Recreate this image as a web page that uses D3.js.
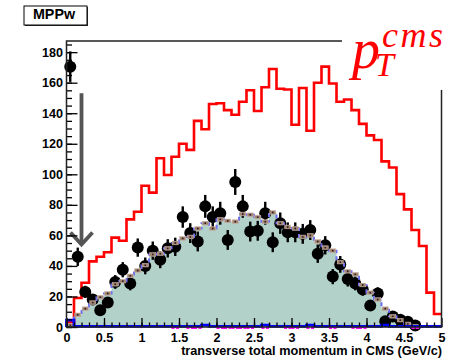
<!DOCTYPE html>
<html>
<head>
<meta charset="utf-8">
<script src="https://cdn.jsdelivr.net/npm/d3@7"></script>
<style>
body { margin: 0; background: #fff; }
svg { display: block; }
text { font-family: "Liberation Sans", Arial, Helvetica, sans-serif; }
text.serif { font-family: "Liberation Serif", "DejaVu Serif", serif; font-style: italic; }
</style>
</head>
<body>
<div id="chart"></div>
<script>
// 50 bins of 0.1 GeV/c from 0 to 5
var binLo = 0, binHi = 5, binCount = 50;

var redCounts = [3, 19, 29, 43, 46, 49, 58.5, 56.5, 70.5, 75.5,
    92.5, 88, 110.5, 99.5, 111.5, 120, 116, 135, 129.5, 146,
    146.5, 142, 139, 147.5, 155, 141.5, 157, 169, 156, 155.5,
    132.5, 156.5, 128.5, 160, 170.5, 159.5, 147.5, 149, 142, 133,
    125.5, 122.5, 108.5, 104.5, 87, 77, 63.5, 53, 22.5, 8.5];

var mcCounts = [1, 8, 12, 16, 19.5, 22, 28, 30, 33.5, 37,
    40.5, 47.5, 48, 51.5, 55, 58, 59, 64.5, 68, 64.5,
    70.5, 69.5, 69, 74, 73.5, 72, 69, 75, 68, 65.5,
    64.5, 59, 60, 56, 52, 50, 42.5, 36.5, 34.5, 27.5,
    22.5, 18, 12, 7, 4.5, 2, 0.5, 0, 0, 0];

var dataCounts = [170.5, 46, 23, 18, 11, 16, 29.5, 37.5, 28.5, 52,
    40, 50, 44, 51.5, 52.5, 72, 61.5, 56, 79, 72,
    74.5, 57, 95, 79, 62.5, 63, 74.5, 55.5, 68, 62,
    62, 61, 63.5, 48, 53.5, 33, 41, 31.5, 28.5, 24.5,
    14, 22, 3.7, 6.8, 4.8, 3.5, 1, null, null, null];

var dataErrors = [10, 6, 4, 3.5, 3, 3.5, 4.5, 5, 4.5, 6,
    5.5, 6, 5.5, 6, 6, 7, 6.5, 6.5, 7.5, 7,
    7.5, 6.5, 8.5, 7.5, 6.5, 6.5, 7.5, 6.5, 7, 6.5,
    6.5, 6.5, 6.5, 6, 6, 5, 5.5, 5, 4.5, 4,
    3, 4, 1.6, 2.2, 1.9, 1.6, 1, null, null, null];

var blueCounts = [4.5, 0.4, 0.4, 0.4, 0.4, 0.4, 0.4, 0.4, 0.4, 0.4,
    0.4, 0.4, 0.4, 0.4, 0.4, 0.4, 0.4, 0.4, 1.2, 0.4,
    0.4, 0.4, 0.4, 0.4, 0.4, 0.4, 1.2, 0.4, 0.4, 0.4,
    0.4, 0.4, 1.2, 0.4, 0.4, 0.4, 0.4, 0.4, 0.4, 0.4,
    0.4, 0.4, 1.2, 0.4, 0.4, 0.4, 0.4, 0.4, 0.4, 0.4];

// bins where the magenta histogram shows along the baseline
var magentaBins = [14, 16, 17, 20, 21, 22, 23, 24, 26, 29, 30, 32, 35, 38, 39, 46];

// cut arrow (x in GeV/c, y in counts)
var arrowX = 0.2, arrowTop = 153, arrowTip = 54;

var xTicks = [0, 0.5, 1, 1.5, 2, 2.5, 3, 3.5, 4, 4.5, 5];
var yTicks = [0, 20, 40, 60, 80, 100, 120, 140, 160, 180];

var width = 459, height = 361;
var frame = { left: 66.5, right: 441.5, top: 41, bottom: 327 };

var svg = d3.select("#chart")
    .append("svg")
    .attr("width", width)
    .attr("height", height);

var x = d3.scaleLinear().domain([binLo, binHi]).range([frame.left, frame.right]);
var y = d3.scaleLinear().domain([0, 187.3]).range([frame.bottom, frame.top]);

var binW = (binHi - binLo) / binCount;
function stepPoints(counts) {
    var pts = [[binLo, 0]];
    counts.forEach(function (v, i) { pts.push([binLo + i * binW, v]); });
    pts.push([binHi, counts[counts.length - 1]]);
    return pts;
}

var stepLine = d3.line()
    .curve(d3.curveStepAfter)
    .x(function (d) { return x(d[0]); })
    .y(function (d) { return y(d[1]); });

var stepArea = d3.area()
    .curve(d3.curveStepAfter)
    .x(function (d) { return x(d[0]); })
    .y0(y(0))
    .y1(function (d) { return y(d[1]); });

// MC fill
svg.append("path")
    .attr("d", stepArea(stepPoints(mcCounts)))
    .attr("fill", "#b1d1c9");

// red histogram
svg.append("path")
    .attr("d", stepLine(stepPoints(redCounts)))
    .attr("fill", "none")
    .attr("stroke", "#ff0000")
    .attr("stroke-width", 2.6);

// data points
var pts = dataCounts.map(function (v, i) {
    return { xc: binLo + (i + 0.5) * binW, v: v, e: dataErrors[i] };
}).filter(function (d) { return d.v !== null; });

svg.append("g").selectAll("line")
    .data(pts)
    .enter().append("line")
    .attr("x1", function (d) { return x(d.xc); })
    .attr("x2", function (d) { return x(d.xc); })
    .attr("y1", function (d) { return y(d.v + d.e); })
    .attr("y2", function (d) { return y(Math.max(0, d.v - d.e)); })
    .attr("stroke", "#000")
    .attr("stroke-width", 2.4);

svg.append("g").selectAll("circle")
    .data(pts)
    .enter().append("circle")
    .attr("cx", function (d) { return x(d.xc); })
    .attr("cy", function (d) { return y(d.v); })
    .attr("r", 6)
    .attr("fill", "#000");

// MC dashed outline
svg.append("path")
    .attr("d", stepLine(stepPoints(mcCounts)))
    .attr("fill", "none")
    .attr("stroke", "#6e6ef2")
    .attr("stroke-width", 2)
    .attr("stroke-dasharray", "4,3");

// MC error boxes
var boxes = svg.append("g").selectAll("g")
    .data(mcCounts.map(function (v, i) { return { xc: binLo + (i + 0.5) * binW, v: v }; })
        .filter(function (d) { return d.v > 0; }))
    .enter().append("g");
boxes.append("rect")
    .attr("x", function (d) { return x(d.xc) - 3; })
    .attr("y", function (d) { return y(d.v) - 1.8; })
    .attr("width", 6)
    .attr("height", 3.6)
    .attr("fill", "#a28574")
    .attr("stroke", "#c9b0a2")
    .attr("stroke-width", 0.6);
boxes.append("circle")
    .attr("cx", function (d) { return x(d.xc); })
    .attr("cy", function (d) { return y(d.v); })
    .attr("r", 0.9)
    .attr("fill", "#2a2020");

// blue histogram along the bottom
svg.append("path")
    .attr("d", stepLine(stepPoints(blueCounts)))
    .attr("fill", "none")
    .attr("stroke", "#0000ff")
    .attr("stroke-width", 2.8);

// magenta pieces
svg.append("g").selectAll("line")
    .data(magentaBins)
    .enter().append("line")
    .attr("x1", function (i) { return x(binLo + i * binW); })
    .attr("x2", function (i) { return x(binLo + (i + 1) * binW); })
    .attr("y1", y(0) + 1)
    .attr("y2", y(0) + 1)
    .attr("stroke", "#ff00ff")
    .attr("stroke-width", 2.2)
    .attr("stroke-dasharray", "3,1.5");

// arrow
svg.append("line")
    .attr("x1", x(arrowX)).attr("x2", x(arrowX))
    .attr("y1", y(arrowTop)).attr("y2", y(arrowTip))
    .attr("stroke", "#555")
    .attr("stroke-width", 3.8);
svg.append("path")
    .attr("d", "M" + (x(arrowX) - 11) + "," + (y(arrowTip) - 12) +
        "L" + x(arrowX) + "," + y(arrowTip) +
        "L" + (x(arrowX) + 11) + "," + (y(arrowTip) - 12))
    .attr("fill", "none")
    .attr("stroke", "#555")
    .attr("stroke-width", 3.8);

// axes (ROOT style ticks pointing inward)
var yMajor = svg.append("g")
    .attr("transform", "translate(" + frame.left + ",0)")
    .call(d3.axisLeft(y).tickValues(yTicks).tickSize(-11).tickSizeOuter(0).tickPadding(3.5)
        .tickFormat(d3.format("d")));
var yMinor = svg.append("g")
    .attr("transform", "translate(" + frame.left + ",0)")
    .call(d3.axisLeft(y).tickValues(d3.range(0, 186, 5)).tickSize(-5.5).tickSizeOuter(0).tickFormat(""));
var xMajor = svg.append("g")
    .attr("transform", "translate(0," + frame.bottom + ")")
    .call(d3.axisBottom(x).tickValues(xTicks).tickSize(-9).tickSizeOuter(0).tickPadding(6)
        .tickFormat(function (d) { return String(d); }));
var xMinor = svg.append("g")
    .attr("transform", "translate(0," + frame.bottom + ")")
    .call(d3.axisBottom(x).tickValues(d3.range(0, 50).map(function (i) { return i / 10; }))
        .tickSize(-4.5).tickSizeOuter(0).tickFormat(""));

[yMajor, yMinor, xMajor, xMinor].forEach(function (g) {
    g.select(".domain").remove();
    g.selectAll(".tick line").attr("stroke", "#000").attr("stroke-width", 1.3);
    g.selectAll(".tick text")
        .attr("fill", "#000")
        .style("font-size", "12.6px")
        .style("font-weight", "bold")
        .style("font-family", "'Liberation Sans', Arial, Helvetica, sans-serif");
});

// frame
svg.append("rect")
    .attr("x", frame.left).attr("y", frame.top)
    .attr("width", frame.right - frame.left)
    .attr("height", frame.bottom - frame.top)
    .attr("fill", "none")
    .attr("stroke", "#222")
    .attr("stroke-width", 1.5);

// p_T^cms label on white background
svg.append("rect")
    .attr("x", 342).attr("y", 20)
    .attr("width", 117).attr("height", 70)
    .attr("fill", "#fff");

var lbl = svg.append("text")
    .attr("class", "serif")
    .attr("x", 352).attr("y", 68)
    .attr("fill", "#ff0000")
    .style("font-size", "56px");
lbl.append("tspan").text("p");
lbl.append("tspan").attr("dx", -5).attr("dy", 8).style("font-size", "34px").text("T");
lbl.append("tspan").attr("dx", -12).attr("dy", -29).style("font-size", "36px")
    .style("letter-spacing", "2.5px").text("cms");

// x axis title
svg.append("text")
    .attr("x", 442).attr("y", 355)
    .attr("text-anchor", "end")
    .style("font-size", "12.7px")
    .style("font-weight", "bold")
    .text("transverse total momentum in CMS (GeV/c)");

// MPPw tag
svg.append("rect")
    .attr("x", 25).attr("y", 7).attr("width", 63).attr("height", 19)
    .attr("fill", "#333");
svg.append("rect")
    .attr("x", 24).attr("y", 6).attr("width", 63).attr("height", 19)
    .attr("fill", "#fff").attr("stroke", "#000").attr("stroke-width", 1);
svg.append("text")
    .attr("x", 54).attr("y", 18.5)
    .attr("text-anchor", "middle")
    .style("font-size", "14.3px")
    .style("font-weight", "bold")
    .text("MPPw");
</script>
</body>
</html>
